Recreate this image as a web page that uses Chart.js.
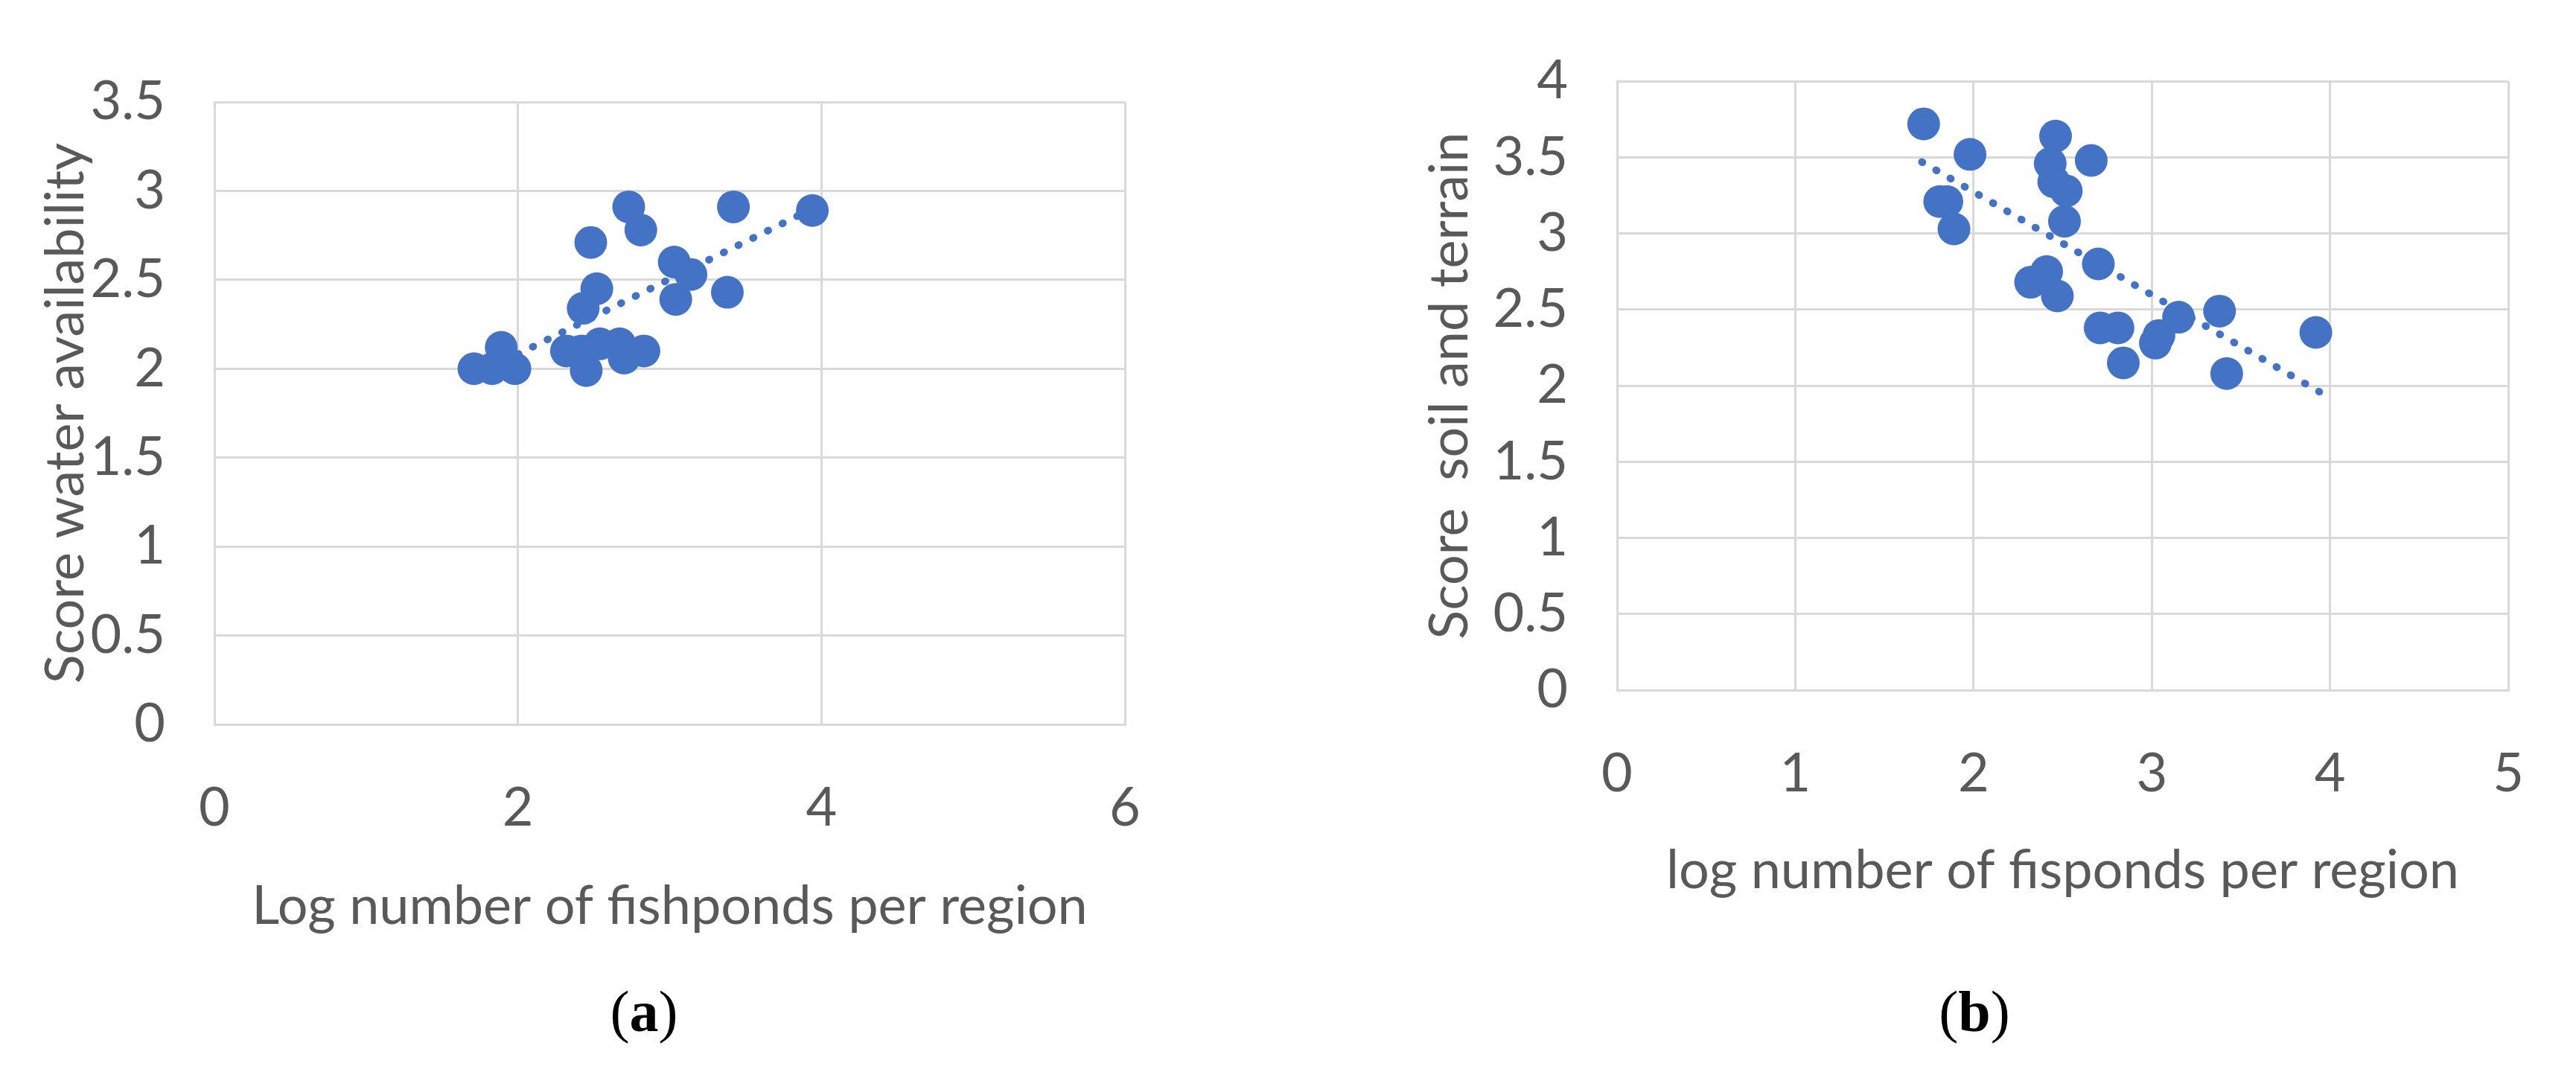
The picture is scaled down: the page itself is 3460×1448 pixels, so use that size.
<!DOCTYPE html>
<html>
<head>
<meta charset="utf-8">
<script src="https://cdn.jsdelivr.net/npm/chart.js@4.4.1/dist/chart.umd.min.js"></script>
<style>
  html, body { margin: 0; padding: 0; background: #fff; }
  body { width: 3460px; height: 1448px; position: relative; overflow: hidden; }
  canvas { position: absolute; top: 0; }
  #chartA { left: 0; }
  #chartB { left: 1750px; }
  .caption {
    position: absolute; top: 1320px;
    font-family: "Liberation Serif", serif; font-size: 78px; line-height: 78px;
    color: #000; transform: translateX(-50%); white-space: nowrap;
  }
</style>
</head>
<body>
<canvas id="chartA" width="1700" height="1320"></canvas>
<canvas id="chartB" width="1710" height="1320"></canvas>
<div class="caption" style="left:865px">(<b>a</b>)</div>
<div class="caption" style="left:2652px">(<b>b</b>)</div>

<script>
// ========================== DATA ==========================
// (a) water availability vs log number of fishponds
const waterX = [2.73, 3.42, 3.94, 2.81, 2.48, 3.03, 3.14, 3.04, 3.38, 2.52, 2.43, 1.89, 1.71, 1.83, 1.98, 2.32, 2.45, 2.54, 2.67, 2.70, 2.83, 2.42];
const waterY = [2.91, 2.91, 2.89, 2.78, 2.71, 2.60, 2.53, 2.39, 2.43, 2.45, 2.34, 2.12, 2.00, 2.00, 2.00, 2.10, 1.99, 2.14, 2.14, 2.06, 2.10, 2.10];
const waterTrendX = [1.71, 3.94];
const waterTrendY = [1.96, 2.90];

// (b) soil and terrain vs log number of fishponds
const soilX = [1.72, 1.98, 2.46, 2.43, 2.66, 2.45, 2.52, 2.51, 1.81, 1.85, 1.89, 2.70, 2.41, 2.32, 2.47, 2.71, 2.81, 3.15, 3.38, 3.04, 3.02, 2.84, 3.42, 3.92];
const soilY = [3.72, 3.52, 3.64, 3.46, 3.48, 3.34, 3.28, 3.08, 3.21, 3.21, 3.03, 2.80, 2.75, 2.68, 2.59, 2.38, 2.38, 2.45, 2.49, 2.33, 2.28, 2.15, 2.08, 2.35];
const soilTrendX = [1.71, 3.94];
const soilTrendY = [3.47, 1.96];

// axis ticks
const xTicksA = [0, 2, 4, 6];
const yTicksA = [0, 0.5, 1, 1.5, 2, 2.5, 3, 3.5];
const xTicksB = [0, 1, 2, 3, 4, 5];
const yTicksB = [0, 0.5, 1, 1.5, 2, 2.5, 3, 3.5, 4];

// ========================== STYLE ==========================
const BLUE = "#4472C4";
const TEXT = "#595959";
const GRID = "#d9d9d9";
const FONT = "Lato";

const toPoints = (xs, ys) => xs.map((x, i) => ({ x, y: ys[i] }));

// ========================== CHART ==========================
function buildChart(id, cfg) {
  const tickFont = { family: FONT, size: 72 };

  return new Chart(document.getElementById(id), {
    type: "scatter",
    data: {
      datasets: [
        {
          data: toPoints(cfg.trendX, cfg.trendY),
          showLine: true,
          borderColor: BLUE,
          borderWidth: 10,
          borderDash: [1, 21],
          borderCapStyle: "round",
          pointRadius: 0,
          pointHoverRadius: 0
        },
        {
          data: toPoints(cfg.xs, cfg.ys),
          backgroundColor: BLUE,
          borderWidth: 0,
          pointRadius: 22,
          pointHoverRadius: 22
        }
      ]
    },
    options: {
      responsive: false,
      animation: false,
      events: [],
      layout: { padding: cfg.padding },
      plugins: { legend: { display: false }, tooltip: { enabled: false } },
      scales: {
        x: {
          type: "linear",
          min: cfg.xTicks[0],
          max: cfg.xTicks[cfg.xTicks.length - 1],
          afterBuildTicks: s => { s.ticks = cfg.xTicks.map(v => ({ value: v })); },
          afterFit: s => { s.height = cfg.xHeight; },
          ticks: { color: TEXT, font: tickFont, padding: 70, callback: v => String(v) },
          grid: { color: GRID, lineWidth: 3, drawTicks: false },
          border: { color: GRID, width: 3 },
          title: {
            display: true, text: cfg.xTitle, color: TEXT,
            font: tickFont, padding: { top: 0, bottom: cfg.xTitlePad }
          }
        },
        y: {
          type: "linear",
          min: cfg.yTicks[0],
          max: cfg.yTicks[cfg.yTicks.length - 1],
          afterBuildTicks: s => { s.ticks = cfg.yTicks.map(v => ({ value: v })); },
          afterFit: s => { s.width = cfg.yWidth; },
          ticks: { color: TEXT, font: tickFont, padding: 66, callback: v => String(v) },
          grid: { color: GRID, lineWidth: 3, drawTicks: false },
          border: { color: GRID, width: 3 },
          title: {
            display: true, text: cfg.yTitle, color: TEXT,
            font: tickFont, padding: { top: cfg.yTitlePad, bottom: 0 }
          }
        }
      }
    }
  });
}

// ========================== INIT ==========================
buildChart("chartA", {
  xs: waterX, ys: waterY, trendX: waterTrendX, trendY: waterTrendY,
  xTicks: xTicksA, yTicks: yTicksA,
  xTitle: "Log number of fishponds per region",
  yTitle: "Score water availability",
  padding: { top: 137, right: 189, left: 0, bottom: 0 },
  xHeight: 347, yWidth: 288, xTitlePad: 59, yTitlePad: 46
});

buildChart("chartB", {
  xs: soilX, ys: soilY, trendX: soilTrendX, trendY: soilTrendY,
  xTicks: xTicksB, yTicks: yTicksB,
  xTitle: "log number of fisponds per region",
  yTitle: "Score  soil and terrain",
  padding: { top: 73, right: 58, left: 0, bottom: 0 },
  xHeight: 393, yWidth: 422, xTitlePad: 107, yTitlePad: 155
});
</script>
</body>
</html>
